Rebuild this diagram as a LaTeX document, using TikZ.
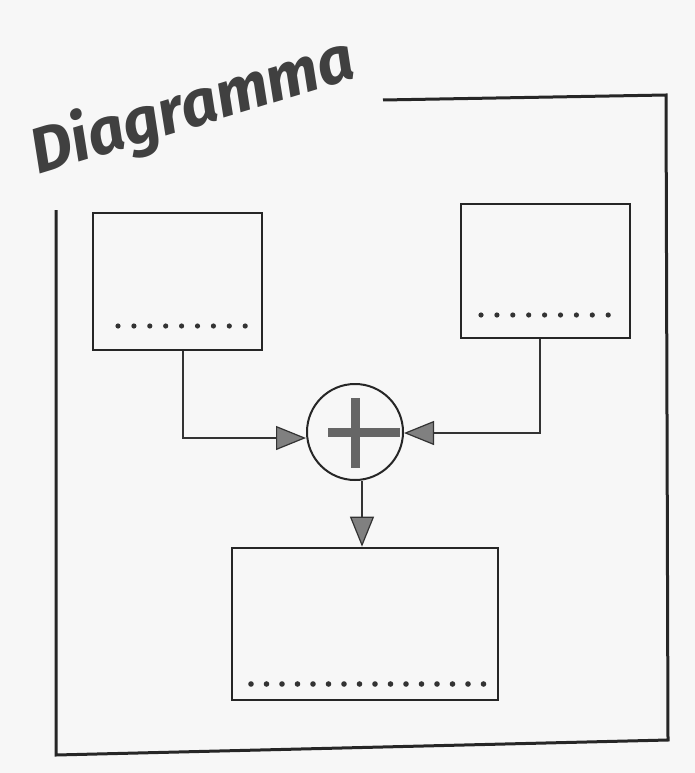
\documentclass[tikz,border=0pt]{standalone}
\usepackage{fontspec}
\setmainfont{Fira Sans}
\usetikzlibrary{arrows.meta}
\begin{document}
\begin{tikzpicture}[x=1pt,y=-1pt,
  box/.style={draw=black!85, line width=2.6pt, fill=none},
  frame/.style={draw=black!85, line width=3pt},
  conn/.style={draw=black!80, line width=2pt,
    -{Triangle[length=30pt,width=24pt,fill=black!50,line width=1.2pt]}},
  dotrow/.style={fill=black!80}]
\useasboundingbox[fill=gray!6] (0,0) rectangle (695,773);
% frame
\coordinate (ftl) at (383,100);
\coordinate (ftr) at (666,95);
\coordinate (fbr) at (668,740);
\coordinate (fbl) at (56,755);
\coordinate (flt) at (56,210);
\draw[frame] (ftl) -- (ftr) -- (fbr) -- (fbl) -- (flt);
% title
\node[rotate=17, text=black!75, font=\fontsize{64}{64}\selectfont\bfseries\itshape] (title) at (193,108) {Diagramma};
% boxes
\node[box, minimum width=169pt, minimum height=137pt] (b1) at (177.5,281.5) {};
\node[box, minimum width=169pt, minimum height=134pt] (b2) at (545.5,271) {};
\node[box, minimum width=266pt, minimum height=152pt] (b3) at (365,624) {};
% dots
\foreach \i in {0,...,8} \fill[dotrow] (118+\i*15.9,326) circle (2.6pt);
\foreach \i in {0,...,8} \fill[dotrow] (481+\i*15.9,315) circle (2.6pt);
\foreach \i in {0,...,15} \fill[dotrow] (251+\i*15.5,684) circle (2.8pt);
% summing junction
\node[circle, draw=black!85, line width=2pt, minimum size=96pt] (sum) at (355,432) {};
\fill[black!60] (328,428) rectangle (400,437);
\fill[black!60] (351,398) rectangle (360,468);
% connectors
\draw[conn] (b1.south -| 183,0) |- (sum.west |- 0,438);
\draw[conn] (b2.south -| 540,0) |- (sum.east |- 0,433);
\draw[conn] (sum.south -| 362,0) -- (b3.north -| 362,0);
\end{tikzpicture}
\end{document}
